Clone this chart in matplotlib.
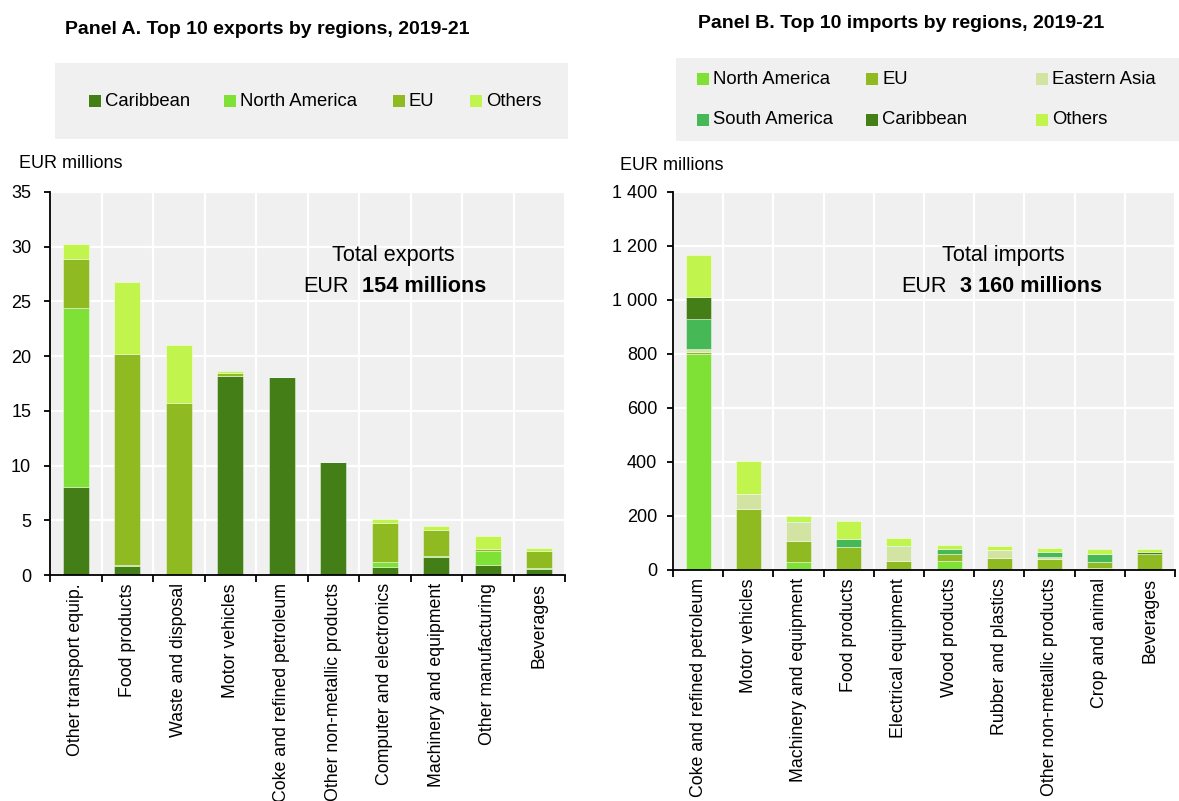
import matplotlib
matplotlib.use("Agg")
import matplotlib.pyplot as plt
import numpy as np
from matplotlib.patches import Rectangle
from matplotlib.ticker import FuncFormatter

plt.rcParams['font.family'] = ['Liberation Sans', 'DejaVu Sans']

# ---------------- data ----------------
categories_A = ["Other transport equip.", "Food products", "Waste and disposal", "Motor vehicles",
                "Coke and refined petroleum", "Other non-metallic products", "Computer and electronics",
                "Machinery and equipment", "Other manufacturing", "Beverages"]
caribbean_A = [8.0, 0.85, 0.0, 18.15, 18.05, 10.3, 0.7, 1.6, 0.95, 0.55]
north_america_A = [16.4, 0.1, 0.0, 0.05, 0.0, 0.0, 0.45, 0.1, 1.2, 0.1]
eu_A = [4.5, 19.25, 15.75, 0.3, 0.0, 0.0, 3.6, 2.4, 0.27, 1.5]
others_A = [1.35, 6.6, 5.3, 0.15, 0.05, 0.05, 0.35, 0.4, 1.13, 0.35]

categories_B = ["Coke and refined petroleum", "Motor vehicles", "Machinery and equipment", "Food products",
                "Electrical equipment", "Wood products", "Rubber and plastics", "Other non-metallic products",
                "Crop and animal", "Beverages"]
north_america_B = [800, 2, 28, 3, 1, 32, 0, 0, 6, 1]
eu_B = [8, 225, 79, 83, 33, 28, 46, 42, 22, 59]
eastern_asia_B = [9, 54, 66, 0, 53, 0, 27, 5, 2, 0]
south_america_B = [111, 0, 5, 28, 1, 17, 2, 20, 29, 0]
caribbean_B = [82, 0, 0, 2, 0, 2, 0, 1, 2, 5]
others_B = [157, 121, 22, 64, 32, 12, 13, 14, 17, 13]

title_A = "Panel A. Top 10 exports by regions, 2019-21"
title_B = "Panel B. Top 10 imports by regions, 2019-21"
total_A = "154 millions"
total_B = "3 160 millions"

COL = {
    "Caribbean": "#437e16",
    "North America": "#7fe036",
    "EU": "#8fba22",
    "Others": "#c1f44c",
    "Eastern Asia": "#d2e3a2",
    "South America": "#47b856",
}

W, H = 1179, 801
fig = plt.figure(figsize=(W / 100, H / 100), dpi=100)


def fx(x):
    return x / W


def fy(y):
    return 1 - y / H


TICK_FS = 12.8
YTICK_FS = 13


def draw_panel(ax, cats, names, series, ymax, ystep, fmt, ypad):
    n = len(cats)
    x = np.arange(n)
    bottom = np.zeros(n)
    for name, vals in zip(names, series):
        vals = np.asarray(vals, dtype=float)
        ax.bar(x, vals, 0.5, bottom=bottom, color=COL[name],
               edgecolor=(1, 1, 1, 0.5), linewidth=0.6, zorder=2)
        bottom += vals
    ax.set_xlim(-0.5, n - 0.5)
    ax.set_ylim(0, ymax)
    ax.set_facecolor('#f0f0f0')
    ax.set_xticks(np.arange(-0.5, n, 1.0))
    ax.set_xticklabels([])
    ax.set_xticks(x, minor=True)
    ax.set_xticklabels(cats, minor=True, rotation=90, fontsize=TICK_FS)
    ax.tick_params(axis='x', which='minor', length=0, pad=6)
    ax.tick_params(axis='x', which='major', length=5, width=1.3, direction='out')
    ax.set_yticks(np.arange(0, ymax + 0.001, ystep))
    ax.yaxis.set_major_formatter(FuncFormatter(fmt))
    ax.tick_params(axis='y', length=4, width=1.3, direction='out', pad=ypad, labelsize=YTICK_FS)
    ax.grid(axis='x', which='major', color='white', lw=1.6, zorder=0)
    ax.grid(axis='y', which='major', color='white', lw=1.6, zorder=0)
    ax.set_axisbelow(True)
    for s in ['top', 'right']:
        ax.spines[s].set_visible(False)
    for s in ['left', 'bottom']:
        ax.spines[s].set_linewidth(1.3)
        ax.spines[s].set_color('black')


def fmt_A(v, p):
    return f"{int(round(v))}"


def fmt_B(v, p):
    return f"{int(round(v)):,}".replace(",", " ")


axA = fig.add_axes([fx(50), fy(575), fx(565) - fx(50), (575 - 192) / H])
draw_panel(axA, categories_A, ["Caribbean", "North America", "EU", "Others"],
           [caribbean_A, north_america_A, eu_A, others_A], 35, 5, fmt_A, 9.5)

axB = fig.add_axes([fx(673), fy(570), fx(1175) - fx(673), (570 - 192) / H])
draw_panel(axB, categories_B,
           ["North America", "EU", "Eastern Asia", "South America", "Caribbean", "Others"],
           [north_america_B, eu_B, eastern_asia_B, south_america_B, caribbean_B, others_B],
           1400, 200, fmt_B, 7.5)

# titles
fig.text(fx(65), fy(30), title_A, fontsize=14, fontweight='bold', va='center', ha='left')
fig.text(fx(698), fy(24), title_B, fontsize=14, fontweight='bold', va='center', ha='left')

# unit labels
fig.text(fx(19), fy(164), "EUR millions", fontsize=13, va='center', ha='left')
fig.text(fx(620), fy(166), "EUR millions", fontsize=13, va='center', ha='left')

# legend boxes
LEG_FS = 13.3
fig.patches.append(Rectangle((fx(55), fy(139)), fx(568) - fx(55), (139 - 63) / H,
                             transform=fig.transFigure, facecolor='#f0f0f0', edgecolor='none'))
fig.patches.append(Rectangle((fx(676), fy(141)), fx(1179) - fx(676), (141 - 58) / H,
                             transform=fig.transFigure, facecolor='#f0f0f0', edgecolor='none'))


def leg_item(xs, yc, name):
    s = 12
    fig.patches.append(Rectangle((fx(xs), fy(yc + s / 2)), s / W, s / H,
                                 transform=fig.transFigure, facecolor=COL[name], edgecolor='none'))
    fig.text(fx(xs + 16), fy(yc), name, fontsize=LEG_FS, va='center', ha='left')


for xs, name in zip([89, 224, 393, 470], ["Caribbean", "North America", "EU", "Others"]):
    leg_item(xs, 101, name)

for xs, name in zip([697, 866, 1036], ["North America", "EU", "Eastern Asia"]):
    leg_item(xs, 79, name)
for xs, name in zip([697, 866, 1036], ["South America", "Caribbean", "Others"]):
    leg_item(xs, 120, name)

# totals annotations
ANN_FS = 15.6
fig.text(fx(393), fy(256), "Total exports", fontsize=ANN_FS, ha='center', va='center')
fig.text(fx(349), fy(286), "EUR", fontsize=ANN_FS, ha='right', va='center')
fig.text(fx(362), fy(286), total_A, fontsize=ANN_FS, fontweight='bold', ha='left', va='center')

fig.text(fx(1003), fy(256), "Total imports", fontsize=ANN_FS, ha='center', va='center')
fig.text(fx(947), fy(286), "EUR", fontsize=ANN_FS, ha='right', va='center')
fig.text(fx(960), fy(286), total_B, fontsize=ANN_FS, fontweight='bold', ha='left', va='center')

fig.savefig("out.png", dpi=100)
